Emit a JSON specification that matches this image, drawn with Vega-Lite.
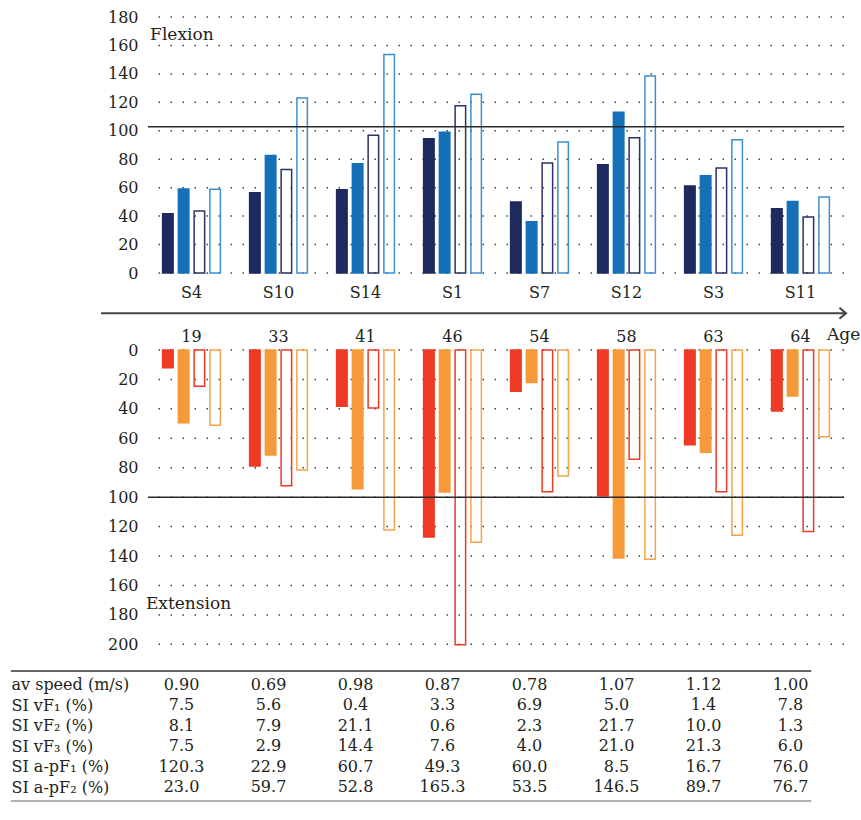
{
  "$schema": "https://vega.github.io/schema/vega-lite/v6.json",
  "padding": {"left": 10, "top": 9, "right": 0, "bottom": 0},
  "spacing": 3,
  "config": {
    "view": {"stroke": null},
    "font": "DejaVu Serif",
    "axis": {"labelFont": "DejaVu Serif", "labelFontSize": 16, "labelColor": "#231f20", "domain": false, "ticks": false, "tickSize": 0, "title": null, "labelOverlap": false, "labelFlush": false, "grid": false},
    "text": {"font": "DejaVu Serif", "fontSize": 16, "color": "#231f20"}
  },
  "resolve": {"scale": {"fill": "independent", "stroke": "independent", "xOffset": "independent"}},
  "datasets": {
    "flexion": [
      {"subj": "S4", "f1": 41.7, "f2": 59.1, "f3": 43.6, "f4": 58.8},
      {"subj": "S10", "f1": 56.5, "f2": 82.7, "f3": 72.7, "f4": 123.0},
      {"subj": "S14", "f1": 58.6, "f2": 76.9, "f3": 96.8, "f4": 153.7},
      {"subj": "S1", "f1": 94.4, "f2": 98.9, "f3": 117.6, "f4": 125.6},
      {"subj": "S7", "f1": 49.9, "f2": 36.1, "f3": 77.3, "f4": 92.1},
      {"subj": "S12", "f1": 76.2, "f2": 113.0, "f3": 95.1, "f4": 138.5},
      {"subj": "S3", "f1": 61.2, "f2": 68.4, "f3": 73.8, "f4": 93.7},
      {"subj": "S11", "f1": 45.2, "f2": 50.2, "f3": 39.4, "f4": 53.4}
    ],
    "extension": [
      {"age": "19", "e1": 12.0, "e2": 49.4, "e3": 24.7, "e4": 51.2},
      {"age": "33", "e1": 78.8, "e2": 71.3, "e3": 92.2, "e4": 81.5},
      {"age": "41", "e1": 38.3, "e2": 94.2, "e3": 39.4, "e4": 122.3},
      {"age": "46", "e1": 127.1, "e2": 96.5, "e3": 200.3, "e4": 130.7},
      {"age": "54", "e1": 28.1, "e2": 22.0, "e3": 96.3, "e4": 85.6},
      {"age": "58", "e1": 99.0, "e2": 141.3, "e3": 74.3, "e4": 142.2},
      {"age": "63", "e1": 64.3, "e2": 69.5, "e3": 96.3, "e4": 125.9},
      {"age": "64", "e1": 41.4, "e2": 31.3, "e3": 123.4, "e4": 58.9}
    ],
    "flexGrid": [{"g": 0}, {"g": 20}, {"g": 40}, {"g": 60}, {"g": 80}, {"g": 100}, {"g": 120}, {"g": 140}, {"g": 160}, {"g": 180}],
    "extGrid": [{"g": 0}, {"g": 20}, {"g": 40}, {"g": 60}, {"g": 80}, {"g": 100}, {"g": 120}, {"g": 140}, {"g": 160}, {"g": 180}, {"g": 200}],
    "table": [
      {"row": "av speed (m/s)", "S4": "0.90", "S10": "0.69", "S14": "0.98", "S1": "0.87", "S7": "0.78", "S12": "1.07", "S3": "1.12", "S11": "1.00"},
      {"row": "SI vF₁ (%)", "S4": "7.5", "S10": "5.6", "S14": "0.4", "S1": "3.3", "S7": "6.9", "S12": "5.0", "S3": "1.4", "S11": "7.8"},
      {"row": "SI vF₂ (%)", "S4": "8.1", "S10": "7.9", "S14": "21.1", "S1": "0.6", "S7": "2.3", "S12": "21.7", "S3": "10.0", "S11": "1.3"},
      {"row": "SI vF₃ (%)", "S4": "7.5", "S10": "2.9", "S14": "14.4", "S1": "7.6", "S7": "4.0", "S12": "21.0", "S3": "21.3", "S11": "6.0"},
      {"row": "SI a-pF₁ (%)", "S4": "120.3", "S10": "22.9", "S14": "60.7", "S1": "49.3", "S7": "60.0", "S12": "8.5", "S3": "16.7", "S11": "76.0"},
      {"row": "SI a-pF₂ (%)", "S4": "23.0", "S10": "59.7", "S14": "52.8", "S1": "165.3", "S7": "53.5", "S12": "146.5", "S3": "89.7", "S11": "76.7"}
    ]
  },
  "vconcat": [
    {
      "width": 696,
      "height": 256,
      "resolve": {"scale": {"x": "independent"}},
      "layer": [
        {
          "data": {"name": "flexGrid"},
          "mark": {"type": "rule", "color": "#444", "strokeWidth": 1.5, "strokeDash": [1.5, 10.5]},
          "encoding": {"y": {"field": "g", "type": "quantitative", "axis": {"labelPadding": 10}}}
        },
        {
          "data": {"name": "flexion"},
          "transform": [{"fold": ["f1", "f2", "f3", "f4"], "as": ["series", "value"]}],
          "mark": {"type": "bar", "strokeWidth": 1.5},
          "encoding": {
            "x": {"field": "subj", "type": "nominal", "sort": ["S4", "S10", "S14", "S1", "S7", "S12", "S3", "S11"], "scale": {"paddingInner": 0.336, "paddingOuter": 0.168}, "axis": {"orient": "bottom", "labelAngle": 0, "labelPadding": 11}},
            "xOffset": {"field": "series", "type": "nominal", "sort": ["f1", "f2", "f3", "f4"], "scale": {"paddingInner": 0.334, "paddingOuter": 0}},
            "y": {"field": "value", "type": "quantitative", "scale": {"domain": [0, 180], "nice": false}, "axis": {"labelPadding": 10}},
            "fill": {"field": "series", "type": "nominal", "scale": {"domain": ["f1", "f2", "f3", "f4"], "range": ["#1e2a5e", "#1570b8", "transparent", "transparent"]}, "legend": null},
            "stroke": {"field": "series", "type": "nominal", "scale": {"domain": ["f1", "f2", "f3", "f4"], "range": ["#1e2a5e", "#1570b8", "#2b3266", "#3d8fd4"]}, "legend": null}
          }
        },
        {
          "data": {"values": [{}]},
          "mark": {"type": "rule", "color": "#2a2a2a", "strokeWidth": 1.5},
          "encoding": {"y": {"datum": 102.8, "type": "quantitative"}}
        },
        {
          "data": {"values": [{"label": "Flexion"}]},
          "mark": {"type": "text", "align": "left", "baseline": "middle", "fontSize": 17},
          "encoding": {
            "x": {"datum": 0.003, "type": "quantitative", "scale": {"domain": [0, 1]}, "axis": null},
            "y": {"datum": 167.3, "type": "quantitative"},
            "text": {"field": "label", "type": "nominal"}
          }
        }
      ]
    },
    {
      "width": 696,
      "height": 316.4,
      "resolve": {"scale": {"x": "independent"}},
      "layer": [
        {
          "data": {"name": "extGrid"},
          "mark": {"type": "rule", "color": "#444", "strokeWidth": 1.5, "strokeDash": [1.5, 10.5]},
          "encoding": {"y": {"field": "g", "type": "quantitative", "axis": {"labelPadding": 10}}}
        },
        {
          "data": {"name": "extension"},
          "transform": [{"fold": ["e1", "e2", "e3", "e4"], "as": ["series", "value"]}],
          "mark": {"type": "bar", "strokeWidth": 1.5},
          "encoding": {
            "x": {"field": "age", "type": "nominal", "sort": ["19", "33", "41", "46", "54", "58", "63", "64"], "scale": {"paddingInner": 0.336, "paddingOuter": 0.168}, "axis": {"orient": "top", "labelAngle": 0, "labelPadding": 6}},
            "xOffset": {"field": "series", "type": "nominal", "sort": ["e1", "e2", "e3", "e4"], "scale": {"paddingInner": 0.334, "paddingOuter": 0}},
            "y": {"field": "value", "type": "quantitative", "scale": {"domain": [0, 215], "nice": false, "reverse": true}, "axis": {"labelPadding": 10}},
            "fill": {"field": "series", "type": "nominal", "scale": {"domain": ["e1", "e2", "e3", "e4"], "range": ["#ee3a24", "#f6993a", "transparent", "transparent"]}, "legend": null},
            "stroke": {"field": "series", "type": "nominal", "scale": {"domain": ["e1", "e2", "e3", "e4"], "range": ["#ee3a24", "#f6993a", "#ee3a24", "#f7a449"]}, "legend": null}
          }
        },
        {
          "data": {"values": [{}]},
          "mark": {"type": "rule", "color": "#2a2a2a", "strokeWidth": 1.5},
          "encoding": {"y": {"datum": 100, "type": "quantitative"}}
        },
        {
          "data": {"values": [{"label": "Extension"}]},
          "mark": {"type": "text", "align": "left", "baseline": "middle", "fontSize": 17},
          "encoding": {
            "x": {"datum": -0.003, "type": "quantitative", "scale": {"domain": [0, 1]}, "axis": null},
            "y": {"datum": 172.3, "type": "quantitative"},
            "text": {"field": "label", "type": "nominal"}
          }
        },
        {
          "data": {"values": [{}]},
          "mark": {"type": "rule", "color": "#444", "strokeWidth": 2},
          "encoding": {
            "x": {"datum": -0.0675, "type": "quantitative", "scale": {"domain": [0, 1]}, "axis": null},
            "x2": {"datum": 1.0025},
            "y": {"datum": -24.9, "type": "quantitative"}
          }
        },
        {
          "data": {"values": [{}]},
          "mark": {"type": "point", "shape": "M-1.2,-1L0,0L-1.2,1", "size": 121, "filled": false, "color": "#444", "strokeWidth": 2, "opacity": 1},
          "encoding": {
            "x": {"datum": 1.0029, "type": "quantitative", "scale": {"domain": [0, 1]}, "axis": null},
            "y": {"datum": -24.9, "type": "quantitative"}
          }
        },
        {
          "data": {"values": [{"label": "Age"}]},
          "mark": {"type": "text", "align": "left", "baseline": "middle", "fontSize": 17},
          "encoding": {
            "x": {"datum": 0.9756, "type": "quantitative", "scale": {"domain": [0, 1]}, "axis": null},
            "y": {"datum": -10.2, "type": "quantitative"},
            "text": {"field": "label", "type": "nominal"}
          }
        }
      ]
    },
    {
      "width": 696,
      "height": 130,
      "resolve": {"scale": {"x": "independent", "y": "independent"}},
      "layer": [
        {
          "data": {"name": "table"},
          "transform": [{"fold": ["S4", "S10", "S14", "S1", "S7", "S12", "S3", "S11"], "as": ["subj", "t"]}],
          "mark": {"type": "text", "dx": -10, "baseline": "middle"},
          "encoding": {
            "x": {"field": "subj", "type": "nominal", "sort": ["S4", "S10", "S14", "S1", "S7", "S12", "S3", "S11"], "scale": {"padding": 0.5}, "axis": null},
            "y": {"field": "row", "type": "nominal", "sort": ["av speed (m/s)", "SI vF₁ (%)", "SI vF₂ (%)", "SI vF₃ (%)", "SI a-pF₁ (%)", "SI a-pF₂ (%)"], "scale": {"padding": 0.68}, "axis": {"labelAlign": "left", "labelPadding": 137, "labelBaseline": "middle"}},
            "text": {"field": "t", "type": "nominal"}
          }
        },
        {
          "data": {"values": [{}]},
          "mark": {"type": "rule", "color": "#333", "strokeWidth": 1.5},
          "encoding": {
            "x": {"datum": -0.197, "type": "quantitative", "scale": {"domain": [0, 1]}, "axis": null},
            "x2": {"datum": 0.953},
            "y": {"datum": 1, "type": "quantitative", "scale": {"domain": [0, 1]}, "axis": null}
          }
        },
        {
          "data": {"values": [{}]},
          "mark": {"type": "rule", "color": "#999", "strokeWidth": 1.5},
          "encoding": {
            "x": {"datum": -0.197, "type": "quantitative", "scale": {"domain": [0, 1]}, "axis": null},
            "x2": {"datum": 0.953},
            "y": {"datum": 0, "type": "quantitative", "scale": {"domain": [0, 1]}, "axis": null}
          }
        }
      ]
    }
  ]
}
